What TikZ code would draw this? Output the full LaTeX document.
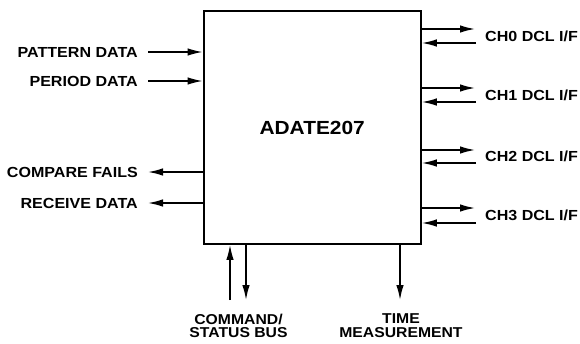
\documentclass[tikz,border=0pt]{standalone}
\usepackage{fontspec}
\setmainfont{Liberation Sans}[FakeStretch=1.1]
\usetikzlibrary{arrows.meta}
\begin{document}
\begin{tikzpicture}[x=1pt,y=-1pt,
  lab/.style={font=\fontsize{14.6}{13.5}\selectfont\bfseries, inner sep=0pt, text height=10pt, text depth=0pt},
  blab/.style={font=\fontsize{14.3}{13.8}\selectfont\bfseries, inner sep=0pt, align=center, anchor=north},
  arr/.style={line width=1.5pt, -{Latex[length=15pt,width=7.5pt]}},
  chipbox/.style={draw, line width=2.2pt, minimum width=217pt, minimum height=232.6pt, inner sep=0pt}]
\useasboundingbox (0,0) rectangle (580,343);
\node[chipbox] (chip) at (312.2,127.5) {};
\node[font=\fontsize{19}{20}\selectfont\bfseries, inner sep=0pt] (name) at (chip.center) {ADATE207};
% left side
\node[lab, anchor=east] (pat) at (138,52) {PATTERN DATA};
\node[lab, anchor=east] (per) at (138,81) {PERIOD DATA};
\node[lab, anchor=east] (cmp) at (138,172) {COMPARE FAILS};
\node[lab, anchor=east] (rcv) at (138,203) {RECEIVE DATA};
\draw[arr] ([xshift=10pt]pat.east) -- (pat.east -| chip.west);
\draw[arr] ([xshift=10pt]per.east) -- (per.east -| chip.west);
\draw[arr] (cmp.east -| chip.west) -- ([xshift=10pt]cmp.east);
\draw[arr] (rcv.east -| chip.west) -- ([xshift=10pt]rcv.east);
% right side
\node[lab, anchor=west] (ch0) at (485,36) {CH0 DCL I/F};
\node[lab, anchor=west] (ch1) at (485,95) {CH1 DCL I/F};
\node[lab, anchor=west] (ch2) at (485,156.5) {CH2 DCL I/F};
\node[lab, anchor=west] (ch3) at (485,215.5) {CH3 DCL I/F};
\coordinate (o0) at (475,29);  \coordinate (i0) at (476,43);
\coordinate (o1) at (475,88);  \coordinate (i1) at (476,102);
\coordinate (o2) at (475,150); \coordinate (i2) at (476,163);
\coordinate (o3) at (475,208); \coordinate (i3) at (476,223);
\foreach \k in {0,1,2,3}{
  \draw[arr] (o\k -| chip.east) -- (o\k);
  \draw[arr] (i\k) -- (i\k -| chip.east);
}
% bottom
\node[blab] (cmd) at (238.5,313.5) {COMMAND/\\STATUS BUS};
\node[blab] (tm) at (401,313.5) {TIME\\MEASUREMENT};
\coordinate (cu) at (230,300);
\coordinate (cd) at (246,300);
\coordinate (td) at (400,300);
\draw[arr] (cu) -- (cu |- chip.south);
\draw[arr] (cd |- chip.south) -- (cd);
\draw[arr] (td |- chip.south) -- (td);
\end{tikzpicture}
\end{document}
